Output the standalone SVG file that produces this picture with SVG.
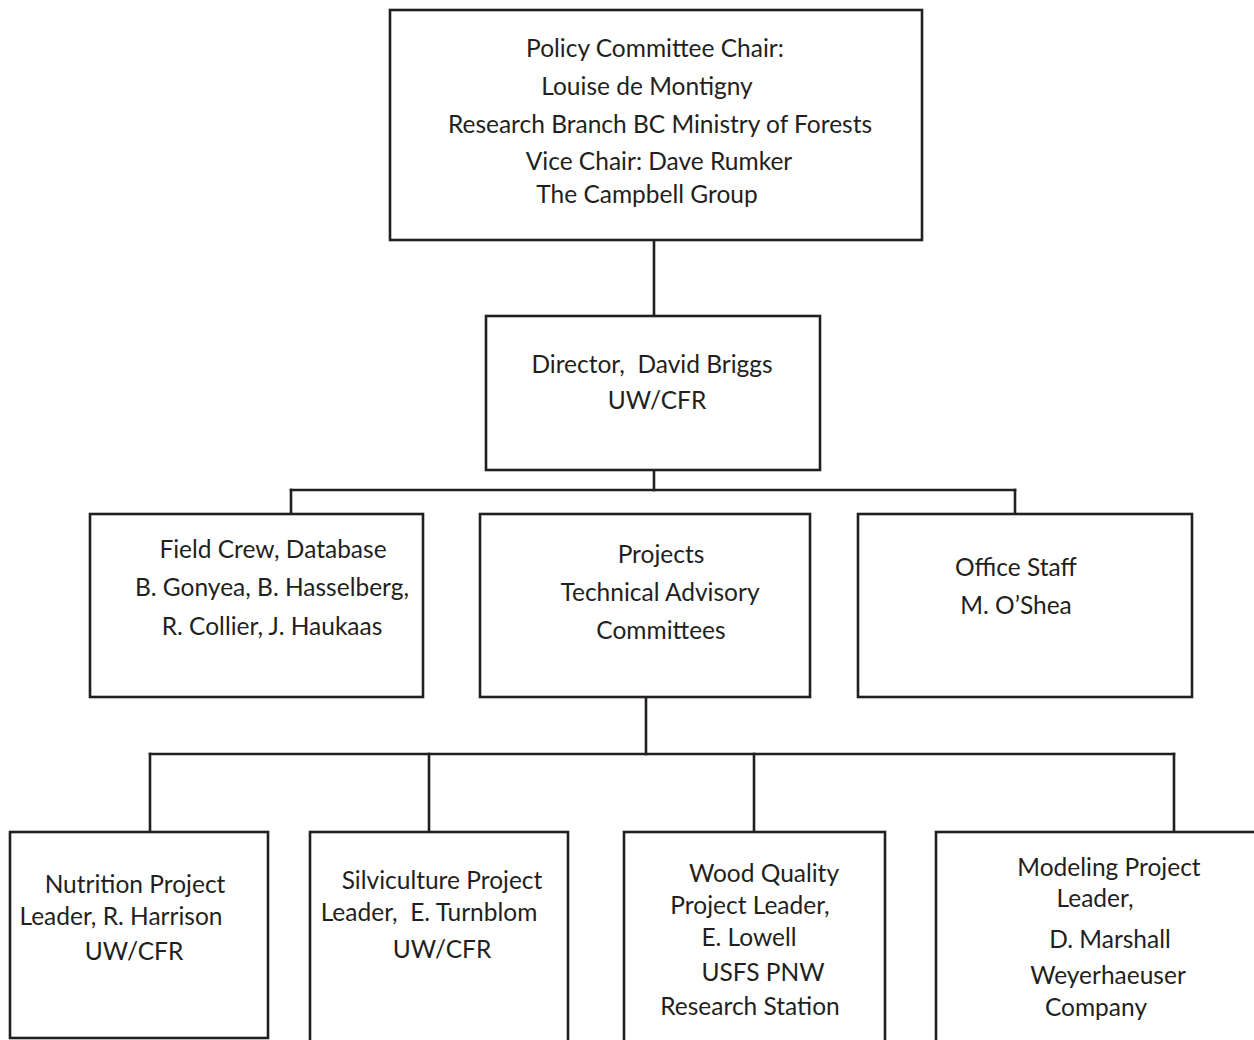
<svg xmlns="http://www.w3.org/2000/svg" width="1254" height="1040" viewBox="0 0 1254 1040">
<style>
rect.box{fill:#fff;stroke:#231f20;stroke-width:2.6}
.conn line{stroke:#231f20;stroke-width:2.6;stroke-linecap:square}
text{font-family:Lato,"Open Sans","Liberation Sans",sans-serif;font-size:24.5px;fill:#231f20;text-anchor:middle}
</style>
<rect width="1254" height="1040" fill="#fff"/>
<g class="conn" id="connectors">
<line x1="654" y1="240" x2="654" y2="316"/>
<line x1="654" y1="470" x2="654" y2="490"/>
<line x1="291" y1="490" x2="1015" y2="490"/>
<line x1="291" y1="490" x2="291" y2="514"/>
<line x1="1015" y1="490" x2="1015" y2="514"/>
<line x1="646" y1="697" x2="646" y2="754"/>
<line x1="150" y1="754" x2="1174" y2="754"/>
<line x1="150" y1="754" x2="150" y2="832"/>
<line x1="429" y1="754" x2="429" y2="832"/>
<line x1="754" y1="754" x2="754" y2="832"/>
<line x1="1174" y1="754" x2="1174" y2="832"/>
</g>
<g id="policy">
<rect class="box" x="390" y="10" width="532" height="230"/>
<text x="655" y="57">Policy Committee Chair:</text>
<text x="647" y="95">Louise de Montigny</text>
<text x="660" y="133">Research Branch BC Ministry of Forests</text>
<text x="659" y="170">Vice Chair: Dave Rumker</text>
<text x="647" y="203">The Campbell Group</text>
</g>
<g id="director">
<rect class="box" x="486" y="316" width="334" height="154"/>
<text x="652" y="373" xml:space="preserve">Director,  David Briggs</text>
<text x="657" y="409">UW/CFR</text>
</g>
<g id="fieldcrew">
<rect class="box" x="90" y="514" width="333" height="183"/>
<text x="273" y="558">Field Crew, Database</text>
<text x="272" y="596">B. Gonyea, B. Hasselberg,</text>
<text x="272" y="635">R. Collier, J. Haukaas</text>
</g>
<g id="projects">
<rect class="box" x="480" y="514" width="330" height="183"/>
<text x="661" y="563">Projects</text>
<text x="660" y="601">Technical Advisory</text>
<text x="661" y="639">Committees</text>
</g>
<g id="office">
<rect class="box" x="858" y="514" width="334" height="183"/>
<text x="1016" y="576">Office Staff</text>
<text x="1016" y="614">M. O’Shea</text>
</g>
<g id="nutrition">
<rect class="box" x="10" y="832" width="258" height="206"/>
<text x="135" y="893">Nutrition Project</text>
<text x="121" y="925">Leader, R. Harrison</text>
<text x="134" y="960">UW/CFR</text>
</g>
<g id="silviculture">
<rect class="box" x="310" y="832" width="258" height="220"/>
<text x="442" y="889">Silviculture Project</text>
<text x="429" y="921" xml:space="preserve">Leader,  E. Turnblom</text>
<text x="442" y="958">UW/CFR</text>
</g>
<g id="woodquality">
<rect class="box" x="624" y="832" width="261" height="220"/>
<text x="764" y="882">Wood Quality</text>
<text x="750" y="914">Project Leader,</text>
<text x="749" y="946">E. Lowell</text>
<text x="763" y="981">USFS PNW</text>
<text x="750" y="1015">Research Station</text>
</g>
<g id="modeling">
<rect class="box" x="936" y="832" width="330" height="220"/>
<text x="1109" y="876">Modeling Project</text>
<text x="1095" y="907">Leader,</text>
<text x="1110" y="948">D. Marshall</text>
<text x="1108" y="984">Weyerhaeuser</text>
<text x="1096" y="1016">Company</text>
</g>
</svg>
